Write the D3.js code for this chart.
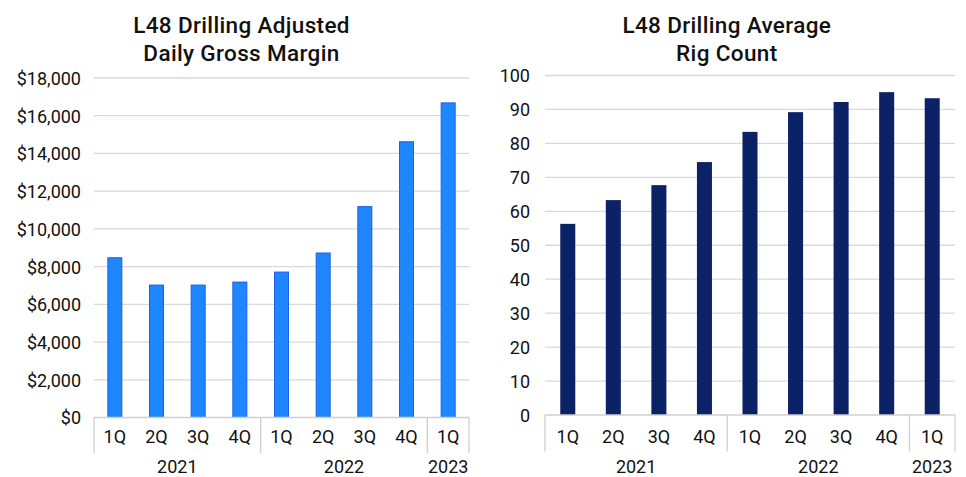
<!DOCTYPE html>
<html>
<head>
<meta charset="utf-8">
<script src="https://cdn.jsdelivr.net/npm/d3@7"></script>
<style>
  html, body { margin: 0; padding: 0; background: #fff; }
  svg { display: block; font-family: Roboto, "Noto Sans", sans-serif; }
</style>
</head>
<body>
<svg id="chart" width="966" height="477"></svg>
<script>
// Quarter categories and the year groups they belong to
const quarters = ["1Q", "2Q", "3Q", "4Q", "1Q", "2Q", "3Q", "4Q", "1Q"];
const years = ["2021", "2022", "2023"];
const yearSpans = [4, 4, 1];

// Adjusted daily gross margin per quarter ($)
const marginValues = [8470, 7020, 7020, 7180, 7710, 8720, 11180, 14620, 16680];
const marginTicks = [0, 2000, 4000, 6000, 8000, 10000, 12000, 14000, 16000, 18000];

// Average rig count per quarter
const rigValues = [56.3, 63.3, 67.7, 74.5, 83.4, 89.2, 92.2, 95.1, 93.3];
const rigTicks = [0, 10, 20, 30, 40, 50, 60, 70, 80, 90, 100];

const svg = d3.select("#chart");

function drawPanel(opts) {
  const g = svg.append("g");
  const keys = quarters.map((q, i) => i);

  const x = d3.scaleBand()
    .domain(keys)
    .range([opts.left, opts.right])
    .paddingInner(opts.pad)
    .paddingOuter(opts.pad / 2);

  const y = d3.scaleLinear()
    .domain([0, opts.max])
    .range([opts.bottom, opts.top]);

  // Title
  const title = g.append("text")
    .attr("x", opts.titleX)
    .attr("text-anchor", "middle")
    .attr("font-size", 22.5)
    .attr("font-weight", 500)
    .attr("letter-spacing", 0.35)
    .attr("fill", "#111");
  opts.title.forEach((line, i) => {
    title.append("tspan").attr("x", opts.titleX).attr("y", 33 + i * 27.5).text(line);
  });

  // Gridlines
  g.append("g").selectAll("line")
    .data(opts.ticks.slice(1))
    .join("line")
    .attr("x1", opts.left).attr("x2", opts.right)
    .attr("y1", d => y(d)).attr("y2", d => y(d))
    .attr("stroke", "#d9d9d9").attr("stroke-width", 1.3);

  // Value axis labels
  const yAxis = d3.axisLeft(y)
    .tickValues(opts.ticks)
    .tickFormat(opts.fmt)
    .tickSize(0)
    .tickPadding(opts.left - opts.labelRight);
  const ya = g.append("g").attr("transform", `translate(${opts.left},0)`).call(yAxis);
  ya.select(".domain").remove();
  ya.selectAll("text")
    .attr("font-family", "Roboto, sans-serif")
    .attr("font-size", 18)
    .attr("fill", "#111")
    .attr("dy", "0.36em");

  // Bars
  g.append("g").selectAll("rect")
    .data(opts.values)
    .join("rect")
    .attr("x", (d, i) => x(i))
    .attr("width", x.bandwidth())
    .attr("y", d => y(d))
    .attr("height", d => y(0) - y(d))
    .attr("fill", opts.color)
    .attr("stroke", opts.stroke || "none")
    .attr("stroke-width", opts.stroke ? 1 : 0);

  // Category axis baseline
  g.append("line")
    .attr("x1", opts.left).attr("x2", opts.right)
    .attr("y1", y(0)).attr("y2", y(0))
    .attr("stroke", "#cfcfcf").attr("stroke-width", 1.3);

  // Year group separators
  const step = x.step();
  let acc = 0;
  const bounds = [0];
  yearSpans.forEach(s => { acc += s; bounds.push(acc); });
  g.append("g").selectAll("line")
    .data(bounds)
    .join("line")
    .attr("x1", b => opts.left + b * step).attr("x2", b => opts.left + b * step)
    .attr("y1", y(0)).attr("y2", opts.sepBottom)
    .attr("stroke", "#cfcfcf").attr("stroke-width", 1.3);

  // Quarter labels
  g.append("g").selectAll("text")
    .data(quarters)
    .join("text")
    .attr("x", (d, i) => x(i) + x.bandwidth() / 2)
    .attr("y", 443.3)
    .attr("text-anchor", "middle")
    .attr("font-size", 18)
    .attr("fill", "#111")
    .text(d => d);

  // Year labels
  g.append("g").selectAll("text")
    .data(years)
    .join("text")
    .attr("x", (d, i) => opts.left + (bounds[i] + bounds[i + 1]) / 2 * step)
    .attr("y", 473)
    .attr("text-anchor", "middle")
    .attr("font-size", 18)
    .attr("fill", "#111")
    .text(d => d);
}

drawPanel({
  title: ["L48 Drilling Adjusted", "Daily Gross Margin"],
  titleX: 241.5,
  left: 94, right: 469, top: 78, bottom: 417.5,
  labelRight: 81,
  max: 18000,
  ticks: marginTicks,
  fmt: d => "$" + d3.format(",")(d),
  values: marginValues,
  pad: 0.664,
  color: "#1e87ff",
  stroke: "#1a5fe6",
  sepBottom: 453
});

drawPanel({
  title: ["L48 Drilling Average", "Rig Count"],
  titleX: 726.8,
  left: 545, right: 955, top: 75.5, bottom: 415,
  labelRight: 530,
  max: 100,
  ticks: rigTicks,
  fmt: d => String(d),
  values: rigValues,
  pad: 0.67,
  color: "#0c2266",
  stroke: null,
  sepBottom: 451.5
});
</script>
</body>
</html>
